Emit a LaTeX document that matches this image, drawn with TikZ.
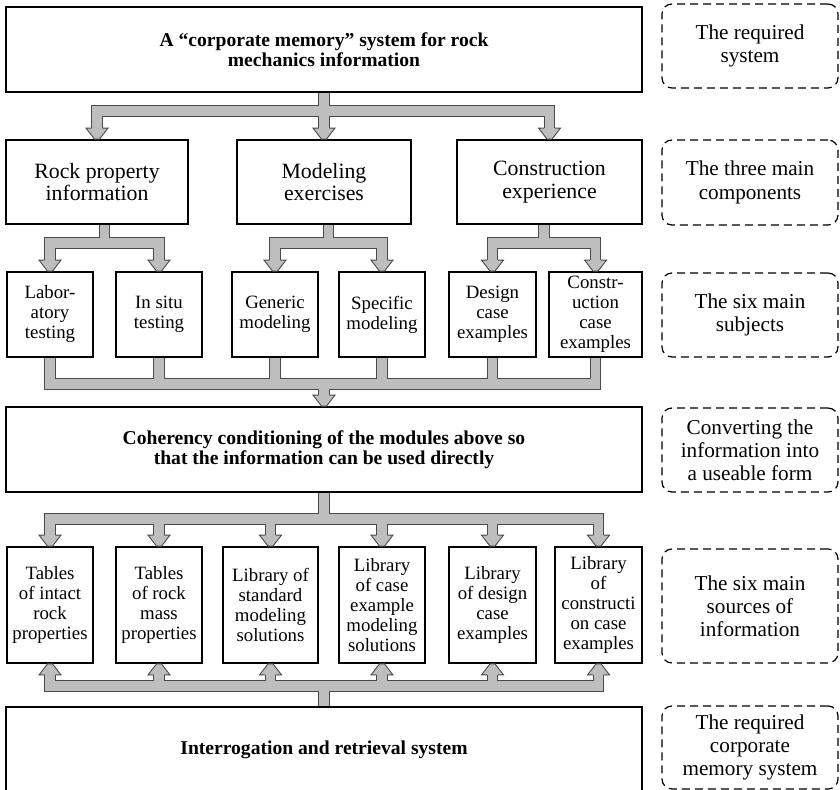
\documentclass[tikz,border=0pt]{standalone}
\usepackage{fontspec}
\setmainfont{Liberation Serif}
\usetikzlibrary{calc}
\definecolor{pipegray}{HTML}{BEBEBE}
\definecolor{pipeline}{HTML}{4A4A4A}
\tikzset{
  box/.style={draw,line width=0.9pt,align=center,inner sep=1pt},
  bigbox/.style={box,font=\fontsize{9.8}{10.2}\selectfont\bfseries},
  midbox/.style={box,font=\fontsize{10.9}{11.2}\selectfont},
  smallbox/.style={box,font=\fontsize{9.4}{10}\selectfont},
  notebox/.style={draw,dash pattern=on 4pt off 2.5pt,line width=0.6pt,rounded corners=5pt,align=center,minimum width=88pt,font=\fontsize{10.6}{11.6}\selectfont},
  pipe/.style={draw=pipeline,double=pipegray,double distance=4.8pt,line width=0.45pt},
  pipehead/.pic={\fill[pipegray](-11,-11)--(11,-11)--(2.5,0)--(-2.5,0)--cycle;
    \draw[pipeline,line width=0.45pt](-5.4,-11)--(-11,-11)--(-2.5,0)--(2.5,0)--(11,-11)--(5.4,-11);}
}
\begin{document}
\begin{tikzpicture}[x=0.5pt,y=-0.5pt]
    \useasboundingbox(0,0)rectangle(840,790);
    \node[bigbox,minimum width=318pt,minimum height=42.5pt](top)at(324,49.5){A “corporate memory” system for rock\\mechanics information};
    \node[midbox,minimum width=91pt,minimum height=42pt](comp1)at(97,182){Rock property\\information};
    \node[midbox,minimum width=87pt,minimum height=42pt](comp2)at(324,182){Modeling\\exercises};
    \node[midbox,minimum width=92.5pt,minimum height=42pt](comp3)at(549.5,182){Construction\\experience};
    \node[smallbox,minimum width=43pt,minimum height=42.5pt](s1)at(50,314.5){Labor-\\atory\\testing};
    \node[smallbox,minimum width=43pt,minimum height=42.5pt](s2)at(159,314.5){In situ\\testing};
    \node[smallbox,minimum width=43pt,minimum height=42.5pt](s3)at(275,314.5){Generic\\modeling};
    \node[smallbox,minimum width=43pt,minimum height=42.5pt](s4)at(382,314.5){Specific\\modeling};
    \node[smallbox,minimum width=43.5pt,minimum height=42.5pt](s5)at(492.5,314.5){Design\\case\\examples};
    \node[smallbox,minimum width=46.5pt,minimum height=42.5pt](s6)at(595.5,314.5){Constr-\\uction\\case\\examples};
    \node[bigbox,minimum width=318pt,minimum height=42.5pt](coh)at(324,449.5){Coherency conditioning of the modules above so\\that the information can be used directly};
    \node[smallbox,minimum width=43pt,minimum height=58pt](src1)at(50,605){Tables\\of intact\\rock\\properties};
    \node[smallbox,minimum width=43pt,minimum height=58pt](src2)at(159,605){Tables\\of rock\\mass\\properties};
    \node[smallbox,minimum width=47.5pt,minimum height=58pt](src3)at(270.5,605){Library of\\standard\\modeling\\solutions};
    \node[smallbox,minimum width=43pt,minimum height=58pt](src4)at(382,605){Library\\of case\\example\\modeling\\solutions};
    \node[smallbox,minimum width=43.5pt,minimum height=58pt](src5)at(492.5,605){Library\\of design\\case\\examples};
    \node[smallbox,minimum width=43.5pt,minimum height=58pt](src6)at(598.5,605){Library\\of\\constructi\\on case\\examples};
    \node[bigbox,minimum width=318pt,minimum height=42.5pt](ret)at(324,749.5){Interrogation and retrieval system};
    \node[notebox,minimum height=42pt](d1)at(750,46){The required\\system};
    \node[notebox,minimum height=42.5pt](d2)at(750,182.5){The three main\\components};
    \node[notebox,minimum height=42pt](d3)at(750,315){The six main\\subjects};
    \node[notebox,minimum height=42pt](d4)at(750,450){Converting the\\information into\\a useable form};
    \node[notebox,minimum height=57pt](d5)at(750,606){The six main\\sources of\\information};
    \node[notebox,minimum height=41.5pt](d6)at(750,747.5){The required\\corporate\\memory system};
    \coordinate(b1)at(324,111);\coordinate(b2)at(324,243);\coordinate(b3)at(324,384);
    \coordinate(b4)at(324,519);\coordinate(b5)at(324,686);
    \draw[pipe](top.south)--(b1)-|($(comp1.north)+(0,-11)$)(b1)-|($(comp3.north)+(0,-11)$)(b1)--($(comp2.north)+(0,-11)$);
    \foreach \cn/\ea/\eb in {comp1/s1/s2,comp2/s3/s4,comp3/s5/s6}{
      \coordinate(j)at($(\ea.north)!.5!(\eb.north)$);
      \draw[pipe](j|-\cn.south)--(j|-b2)-|($(\ea.north)+(0,-11)$)(j|-b2)-|($(\eb.north)+(0,-11)$);
    }
    \draw[pipe]\foreach \i in {1,...,6}{(s\i.south)|-(b3)}(b3)--($(coh.north)+(0,-11)$);
    \draw[pipe](coh.south)--(b4)\foreach \i in {1,...,6}{(b4)-|($(src\i.north)+(0,-11)$)};
    \draw[pipe](ret.north)--(b5)\foreach \i in {1,...,6}{(b5)-|($(src\i.south)+(0,11)$)};
    \foreach \n in {comp1,comp2,comp3,s1,s2,s3,s4,s5,s6,coh,src1,src2,src3,src4,src5,src6}\pic at(\n.north){pipehead};
    \foreach \i in {1,...,6}\pic[rotate=180]at(src\i.south){pipehead};
  \end{tikzpicture}
\end{document}
